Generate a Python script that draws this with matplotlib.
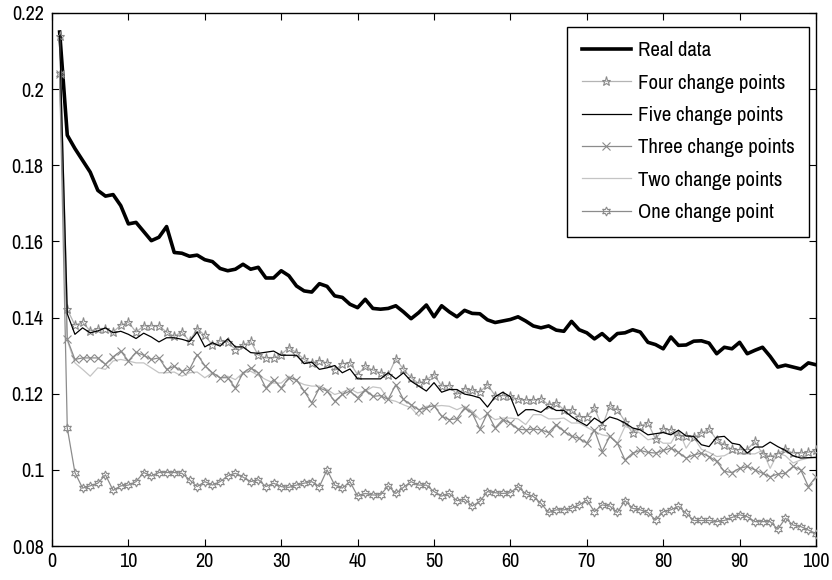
import matplotlib
matplotlib.use("Agg")
import matplotlib.pyplot as plt
from matplotlib.ticker import FixedLocator, FixedFormatter

plt.rcParams['font.family'] = ['Archivo Narrow', 'Liberation Sans', 'DejaVu Sans']

t = list(range(1, 101))

real_data = [0.215, 0.1879, 0.1844, 0.1813, 0.1782, 0.1734, 0.1719, 0.1723, 0.1694, 0.1646,
             0.1650, 0.1626, 0.1602, 0.1611, 0.1639, 0.1571, 0.1569, 0.1561, 0.1564, 0.1552,
             0.1547, 0.1529, 0.1523, 0.1527, 0.1540, 0.1527, 0.1532, 0.1504, 0.1504, 0.1523,
             0.1510, 0.1483, 0.1470, 0.1467, 0.1489, 0.1482, 0.1457, 0.1453, 0.1435, 0.1426,
             0.1448, 0.1424, 0.1422, 0.1424, 0.1431, 0.1415, 0.1397, 0.1413, 0.1433, 0.1402,
             0.1431, 0.1415, 0.1402, 0.1419, 0.1411, 0.1410, 0.1394, 0.1387, 0.1391, 0.1395,
             0.1402, 0.1391, 0.1378, 0.1373, 0.1378, 0.1367, 0.1364, 0.1390, 0.1368, 0.1360,
             0.1344, 0.1358, 0.1340, 0.1358, 0.1360, 0.1368, 0.1362, 0.1335, 0.1329, 0.1318,
             0.1349, 0.1327, 0.1328, 0.1338, 0.1339, 0.1333, 0.1305, 0.1322, 0.1318, 0.1335,
             0.1305, 0.1314, 0.1322, 0.1298, 0.1270, 0.1275, 0.1270, 0.1265, 0.1281, 0.1276]

four_cp = [0.214, 0.1422, 0.1380, 0.1388, 0.1365, 0.1371, 0.1371, 0.1362, 0.1380, 0.1388,
           0.1362, 0.1378, 0.1378, 0.1378, 0.1362, 0.1351, 0.1362, 0.1338, 0.1371, 0.1353,
           0.1328, 0.1338, 0.1336, 0.1316, 0.1327, 0.1338, 0.1301, 0.1294, 0.1294, 0.1303,
           0.1321, 0.1308, 0.1290, 0.1281, 0.1287, 0.1281, 0.1261, 0.1279, 0.1281, 0.1250,
           0.1272, 0.1262, 0.1255, 0.1248, 0.1292, 0.1264, 0.1242, 0.1227, 0.1237, 0.1250,
           0.1220, 0.1221, 0.1198, 0.1213, 0.1209, 0.1204, 0.1224, 0.1195, 0.1195, 0.1193,
           0.1185, 0.1183, 0.1183, 0.1186, 0.1171, 0.1176, 0.1158, 0.1156, 0.1139, 0.1139,
           0.1162, 0.1114, 0.1167, 0.1158, 0.1127, 0.1096, 0.1116, 0.1123, 0.1081, 0.1107,
           0.1105, 0.1089, 0.1089, 0.1086, 0.1096, 0.1107, 0.1079, 0.1066, 0.1054, 0.1053,
           0.1053, 0.1075, 0.1042, 0.1035, 0.1042, 0.1054, 0.1044, 0.1044, 0.1046, 0.1051]

five_cp = [0.214, 0.1410, 0.1356, 0.1373, 0.1360, 0.1365, 0.1373, 0.1360, 0.1364, 0.1356,
           0.1345, 0.1359, 0.1349, 0.1336, 0.1347, 0.1347, 0.1343, 0.1337, 0.1362, 0.1323,
           0.1334, 0.1325, 0.1344, 0.1323, 0.1323, 0.1308, 0.1306, 0.1309, 0.1312, 0.1301,
           0.1301, 0.1301, 0.1279, 0.1283, 0.1264, 0.1268, 0.1274, 0.1255, 0.1265, 0.1239,
           0.1239, 0.1239, 0.1239, 0.1255, 0.1239, 0.1255, 0.1233, 0.1220, 0.1207, 0.1229,
           0.1204, 0.1211, 0.1211, 0.1199, 0.1195, 0.1189, 0.1165, 0.1192, 0.1204, 0.1192,
           0.1142, 0.1158, 0.1158, 0.1151, 0.1167, 0.1156, 0.1156, 0.1140, 0.1127, 0.1116,
           0.1136, 0.1123, 0.1139, 0.1133, 0.1123, 0.1110, 0.1105, 0.1092, 0.1095, 0.1098,
           0.1092, 0.1104, 0.1089, 0.1088, 0.1066, 0.1061, 0.1086, 0.1088, 0.1070, 0.1066,
           0.1044, 0.1060, 0.1060, 0.1073, 0.1061, 0.1051, 0.1037, 0.1031, 0.1032, 0.1033]

three_cp = [0.204, 0.1343, 0.1290, 0.1294, 0.1294, 0.1294, 0.1277, 0.1297, 0.1312, 0.1286,
            0.1309, 0.1301, 0.1290, 0.1294, 0.1264, 0.1272, 0.1259, 0.1264, 0.1303, 0.1274,
            0.1255, 0.1242, 0.1242, 0.1215, 0.1255, 0.1268, 0.1255, 0.1215, 0.1237, 0.1215,
            0.1242, 0.1237, 0.1207, 0.1176, 0.1215, 0.1207, 0.1180, 0.1198, 0.1207, 0.1189,
            0.1211, 0.1193, 0.1195, 0.1185, 0.1224, 0.1185, 0.1171, 0.1158, 0.1163, 0.1169,
            0.1141, 0.1132, 0.1134, 0.1163, 0.1149, 0.1107, 0.1149, 0.1110, 0.1132, 0.1123,
            0.1107, 0.1105, 0.1107, 0.1105, 0.1098, 0.1119, 0.1101, 0.1088, 0.1083, 0.1070,
            0.1105, 0.1048, 0.1088, 0.1070, 0.1026, 0.1044, 0.1051, 0.1046, 0.1044, 0.1051,
            0.1057, 0.1046, 0.1031, 0.1039, 0.1044, 0.1035, 0.1022, 0.0996, 0.0993, 0.1004,
            0.1009, 0.1000, 0.0991, 0.0982, 0.0989, 0.0991, 0.1009, 0.1000, 0.0956, 0.0982]

two_cp = [0.203, 0.1340, 0.1281, 0.1264, 0.1246, 0.1268, 0.1264, 0.1286, 0.1290, 0.1286,
          0.1281, 0.1281, 0.1268, 0.1255, 0.1255, 0.1257, 0.1246, 0.1255, 0.1257, 0.1242,
          0.1255, 0.1242, 0.1246, 0.1237, 0.1255, 0.1259, 0.1248, 0.1237, 0.1228, 0.1228,
          0.1246, 0.1233, 0.1224, 0.1220, 0.1220, 0.1211, 0.1198, 0.1204, 0.1213, 0.1202,
          0.1207, 0.1218, 0.1215, 0.1185, 0.1180, 0.1171, 0.1163, 0.1141, 0.1167, 0.1167,
          0.1169, 0.1167, 0.1158, 0.1167, 0.1154, 0.1132, 0.1145, 0.1132, 0.1136, 0.1136,
          0.1134, 0.1119, 0.1145, 0.1145, 0.1134, 0.1134, 0.1136, 0.1123, 0.1123, 0.1112,
          0.1101, 0.1092, 0.1088, 0.1070, 0.1114, 0.1107, 0.1096, 0.1079, 0.1083, 0.1070,
          0.1070, 0.1105, 0.1057, 0.1086, 0.1054, 0.1046, 0.1035, 0.1037, 0.1048, 0.1042,
          0.1042, 0.1042, 0.1051, 0.1004, 0.1044, 0.1037, 0.1018, 0.1026, 0.1031, 0.1031]

one_cp = [0.204, 0.1110, 0.0993, 0.0952, 0.0958, 0.0965, 0.0987, 0.0946, 0.0958, 0.0960,
          0.0969, 0.0993, 0.0984, 0.0993, 0.0993, 0.0993, 0.0991, 0.0974, 0.0956, 0.0969,
          0.0960, 0.0969, 0.0984, 0.0991, 0.0981, 0.0969, 0.0974, 0.0956, 0.0965, 0.0956,
          0.0954, 0.0960, 0.0965, 0.0969, 0.0956, 0.1000, 0.0960, 0.0952, 0.0969, 0.0931,
          0.0938, 0.0934, 0.0934, 0.0958, 0.0938, 0.0954, 0.0969, 0.0960, 0.0960, 0.0943,
          0.0931, 0.0938, 0.0919, 0.0923, 0.0905, 0.0917, 0.0943, 0.0940, 0.0938, 0.0940,
          0.0956, 0.0937, 0.0930, 0.0912, 0.0888, 0.0895, 0.0895, 0.0899, 0.0908, 0.0921,
          0.0890, 0.0908, 0.0905, 0.0888, 0.0919, 0.0899, 0.0895, 0.0888, 0.0868, 0.0890,
          0.0895, 0.0904, 0.0886, 0.0867, 0.0867, 0.0867, 0.0864, 0.0867, 0.0875, 0.0882,
          0.0877, 0.0864, 0.0864, 0.0864, 0.0844, 0.0873, 0.0855, 0.0851, 0.0842, 0.0832]

labels = ["Real data", "Four change points", "Five change points",
          "Three change points", "Two change points", "One change point"]
x_ticks = [0, 10, 20, 30, 40, 50, 60, 70, 80, 90, 100]
y_ticks = [0.08, 0.10, 0.12, 0.14, 0.16, 0.18, 0.20, 0.22]
y_tick_labels = ["0.08", "0.1", "0.12", "0.14", "0.16", "0.18", "0.2", "0.22"]

fig = plt.figure(figsize=(8.32, 5.80), dpi=100)
ax = fig.add_axes([52/832, 34/580, 764/832, 533/580])

ax.plot(t, real_data, color='black', lw=2.6, label=labels[0], zorder=3)
ax.plot(t, four_cp, color='#b4b4b4', lw=0.9, marker='*', ms=6.5, mfc='none',
        mec='#8a8a8a', mew=0.8, label=labels[1], zorder=4)
ax.plot(t, five_cp, color='black', lw=0.9, label=labels[2], zorder=5)
ax.plot(t, three_cp, color='#8c8c8c', lw=0.9, marker='x', ms=6, mfc='none',
        mec='#8a8a8a', mew=0.8, label=labels[3], zorder=4)
ax.plot(t, two_cp, color='#c4c4c4', lw=0.9, label=labels[4], zorder=2)
ax.plot(t, one_cp, color='#8c8c8c', lw=0.9, marker=(6, 1, 0), ms=6.5, mfc='none',
        mec='#8a8a8a', mew=0.8, label=labels[5], zorder=4)

ax.set_xlim(0, 100)
ax.set_ylim(0.08, 0.22)
ax.xaxis.set_major_locator(FixedLocator(x_ticks))
ax.yaxis.set_major_locator(FixedLocator(y_ticks))
ax.yaxis.set_major_formatter(FixedFormatter(y_tick_labels))
ax.tick_params(direction='in', length=5, width=0.8, top=True, right=True,
               labelsize=14.5, colors='black')
ax.tick_params(axis='y', pad=6)
ax.tick_params(axis='x', pad=4)
for s in ax.spines.values():
    s.set_linewidth(1.0)
    s.set_color('black')

leg = ax.legend(loc='upper right', bbox_to_anchor=(0.991, 0.974), borderaxespad=0,
                fontsize=15, fancybox=False, framealpha=1, edgecolor='black',
                handlelength=2.35, handletextpad=0.34, labelspacing=0.64,
                borderpad=0.7)
leg.get_frame().set_linewidth(1.0)

fig.savefig("out.png", dpi=100)
